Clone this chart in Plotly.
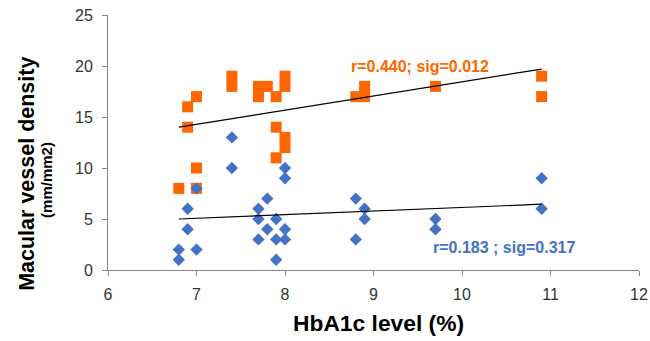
import plotly.graph_objects as go

# Orange series (squares)
orange_x = [6.8, 6.9, 6.9, 7.0, 7.0, 7.0, 7.4, 7.4, 7.7, 7.7, 7.8, 7.9, 7.9, 7.9,
            8.0, 8.0, 8.0, 8.0, 8.8, 8.9, 8.9, 9.7, 10.9, 10.9]
orange_y = [8, 16, 14, 17, 10, 8, 19, 18, 18, 17, 18, 17, 14, 11,
            19, 18, 13, 12, 17, 18, 17, 18, 19, 17]

# Blue series (diamonds)
blue_x = [6.8, 6.8, 6.9, 6.9, 7.0, 7.0, 7.4, 7.4, 7.7, 7.7, 7.7, 7.8, 7.8,
          7.9, 7.9, 7.9, 8.0, 8.0, 8.0, 8.0, 8.8, 8.8, 8.9, 8.9, 9.7, 9.7, 10.9, 10.9]
blue_y = [2, 1, 6, 4, 8, 2, 13, 10, 6, 5, 3, 7, 4,
          5, 3, 1, 10, 9, 4, 3, 7, 3, 6, 5, 5, 4, 9, 6]

# Trend line endpoints
trend_x = [6.8, 10.9]
orange_trend_y = [14.0, 19.7]
blue_trend_y = [5.0, 6.45]

x_ticks = [6, 7, 8, 9, 10, 11, 12]
y_ticks = [0, 5, 10, 15, 20, 25]

ORANGE = "#FF6600"
BLUE = "#4472C4"

fig = go.Figure()
fig.add_trace(go.Scatter(x=orange_x, y=orange_y, mode="markers",
                         marker=dict(symbol="square", size=11, color=ORANGE)))
fig.add_trace(go.Scatter(x=blue_x, y=blue_y, mode="markers",
                         marker=dict(symbol="diamond", size=9.5, color=BLUE)))
fig.add_trace(go.Scatter(x=trend_x, y=orange_trend_y, mode="lines",
                         line=dict(color="black", width=1.2)))
fig.add_trace(go.Scatter(x=trend_x, y=blue_trend_y, mode="lines",
                         line=dict(color="black", width=1.2)))

fig.add_annotation(x=9.52, y=20.0, text="<b>r=0.440; sig=0.012</b>", showarrow=False,
                   font=dict(family="Liberation Sans", size=16, color=ORANGE))
fig.add_annotation(x=10.48, y=2.25, text="<b>r=0.183 ; sig=0.317</b>", showarrow=False,
                   font=dict(family="Liberation Sans", size=16, color=BLUE))

fig.add_annotation(xref="paper", yref="paper", x=-0.154, y=0.378, xanchor="center", yanchor="middle",
                   text="<b>Macular vessel density</b>", textangle=-90, showarrow=False,
                   font=dict(family="Liberation Sans", size=21.5, color="black"))
fig.add_annotation(xref="paper", yref="paper", x=-0.115, y=0.353, xanchor="center", yanchor="middle",
                   text="<b>(mm/mm2)</b>", textangle=-90, showarrow=False,
                   font=dict(family="Liberation Sans", size=15, color="black"))
fig.add_annotation(xref="paper", yref="paper", x=0.51, y=-0.208, xanchor="center", yanchor="middle",
                   text="<b>HbA1c level (%)</b>", showarrow=False,
                   font=dict(family="Liberation Sans", size=22.8, color="black"))

fig.update_layout(
    width=650, height=341,
    margin=dict(l=108, r=11, t=15, b=71),
    paper_bgcolor="white", plot_bgcolor="white",
    showlegend=False,
    font=dict(family="Liberation Sans", size=16, color="#333333"),
    xaxis=dict(range=[6, 12], tickvals=x_ticks, showgrid=False, zeroline=False,
               showline=True, linecolor="#868686", linewidth=1, automargin=False,
               ticks="outside", ticklen=5, tickcolor="#868686", ticklabelstandoff=5),
    yaxis=dict(range=[0, 25], tickvals=y_ticks, showgrid=False, zeroline=False,
               showline=True, linecolor="#868686", linewidth=1, automargin=False,
               ticks="outside", ticklen=5, tickcolor="#868686", ticklabelstandoff=6),
)

fig.write_html("out.html", config={"displayModeBar": False},
               post_script="document.body.style.margin='0';document.body.style.overflow='hidden';")
